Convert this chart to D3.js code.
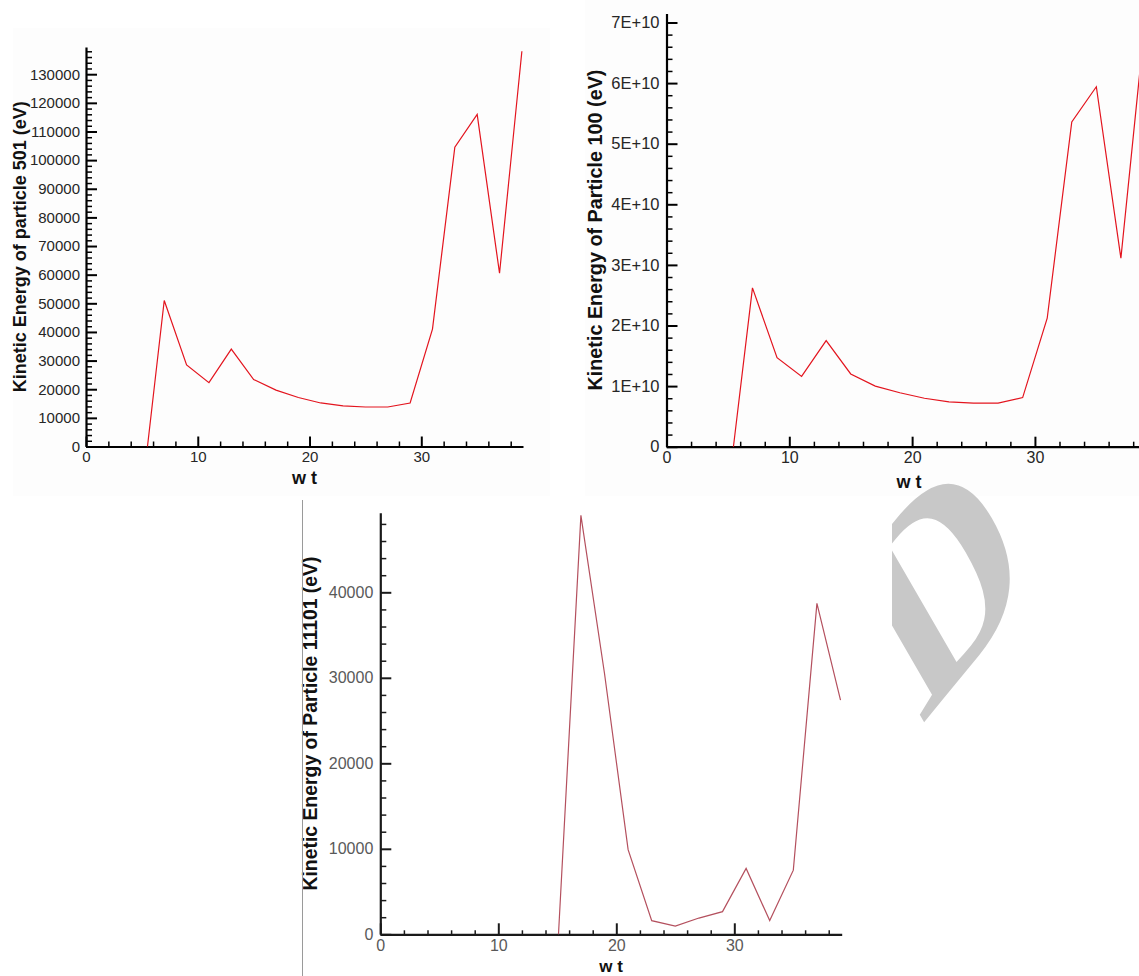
<!DOCTYPE html>
<html>
<head>
<meta charset="utf-8">
<script src="https://cdn.jsdelivr.net/npm/d3@7"></script>
<style>
    body { margin: 0; background: #ffffff; }
    svg { display: block; }
    text { font-family: "Liberation Sans", Arial, sans-serif; }
</style>
</head>
<body>
<svg id="chart" width="1139" height="976"></svg>
<script>
// Particle 501 (top left)
var wt501 = [5.5, 7, 9, 11, 13, 15, 17, 19, 21, 23, 25, 27, 29, 31, 33, 35, 37, 39];
var ke501 = [0, 51000, 28500, 22300, 34000, 23400, 19700, 17100, 15200, 14200, 13800, 13800, 15200, 41000, 104500, 116000, 60500, 138000];
var yTicks501 = [0, 10000, 20000, 30000, 40000, 50000, 60000, 70000, 80000, 90000, 100000, 110000, 120000, 130000];

// Particle 100 (top right)
var wt100 = [5.45, 7, 9, 11, 13, 15, 17, 19, 21, 23, 25, 27, 29, 31, 33, 35, 37, 39];
var ke100 = [0, 2.62e10, 1.47e10, 1.16e10, 1.75e10, 1.2e10, 1.0e10, 0.89e10, 0.8e10, 0.74e10, 0.72e10, 0.72e10, 0.81e10, 2.12e10, 5.36e10, 5.94e10, 3.11e10, 7.1e10];
var yTicks100 = [0, 1e10, 2e10, 3e10, 4e10, 5e10, 6e10, 7e10];
var yLabels100 = ["0", "1E+10", "2E+10", "3E+10", "4E+10", "5E+10", "6E+10", "7E+10"];

// Particle 11101 (bottom)
var wt11101 = [15.1, 17, 19, 21, 23, 25, 27, 29, 31, 33, 35, 37, 39];
var ke11101 = [0, 49000, 30500, 9900, 1600, 950, 1900, 2650, 7700, 1600, 7500, 38700, 27400];
var yTicks11101 = [0, 10000, 20000, 30000, 40000];

var xTicks = [0, 10, 20, 30];
var xTitle = "w t";

var svg = d3.select("#chart");

// very faint paper tone behind the two upper plots
svg.append("rect").attr("x", 13).attr("y", 28).attr("width", 537).attr("height", 468).attr("fill", "#fdfdfd");
svg.append("rect").attr("x", 585).attr("y", 0).attr("width", 554).attr("height", 496).attr("fill", "#fdfdfd");

/**
 * drawPanel: one line plot with Tecplot-like inward ticks
 */
function drawPanel(opt) {
    var g = svg.append("g");

    var x = d3.scaleLinear().domain([0, opt.xMax]).range(opt.xRange);
    var y = d3.scaleLinear().domain([0, opt.yMax]).range(opt.yRange);

    // minor ticks first so the major ones sit on top
    var xMinor = d3.range(2, opt.xMax, 2).filter(function(v) { return v % 10 !== 0; });
    var yMinor = d3.range(0, opt.yMax, opt.yMinorStep).filter(function(v) {
        return Math.abs(v / opt.yMajorStep - Math.round(v / opt.yMajorStep)) > 1e-6;
    });

    g.append("g")
        .attr("transform", "translate(0," + opt.yRange[0] + ")")
        .call(d3.axisBottom(x).tickValues(xMinor).tickFormat("").tickSizeInner(-opt.minorX).tickSizeOuter(0))
        .call(function(a) { a.select(".domain").remove(); })
        .selectAll("line").attr("stroke", opt.axisColor).attr("stroke-width", 1.5);

    g.append("g")
        .attr("transform", "translate(" + opt.xRange[0] + ",0)")
        .call(d3.axisLeft(y).tickValues(yMinor).tickFormat("").tickSizeInner(-opt.minorY).tickSizeOuter(0))
        .call(function(a) { a.select(".domain").remove(); })
        .selectAll("line").attr("stroke", opt.axisColor).attr("stroke-width", 1.5);

    // Build X axis
    var xAxis = g.append("g")
        .attr("transform", "translate(0," + opt.yRange[0] + ")")
        .call(d3.axisBottom(x).tickValues(xTicks).tickSizeInner(-opt.majorX).tickSizeOuter(0).tickPadding(opt.xPad));
    xAxis.select(".domain").attr("stroke", opt.axisColor).attr("stroke-width", 2.2);
    xAxis.selectAll("line").attr("stroke", opt.axisColor).attr("stroke-width", 2);
    xAxis.selectAll("text")
        .attr("fill", opt.labelColor)
        .style("font-size", opt.tickFont + "px");

    // Build Y axis
    var yAxis = g.append("g")
        .attr("transform", "translate(" + opt.xRange[0] + ",0)")
        .call(d3.axisLeft(y).tickValues(opt.yTicks).tickFormat(opt.yFormat).tickSizeInner(-opt.majorY).tickSizeOuter(0).tickPadding(opt.yPad));
    yAxis.select(".domain").attr("stroke", opt.axisColor).attr("stroke-width", 2.2);
    yAxis.selectAll("line").attr("stroke", opt.axisColor).attr("stroke-width", 2);
    yAxis.selectAll("text")
        .attr("fill", opt.labelColor)
        .style("font-size", opt.yTickFont + "px");

    // the curve
    var line = d3.line()
        .x(function(d) { return x(d[0]); })
        .y(function(d) { return y(d[1]); });
    g.append("path")
        .datum(d3.zip(opt.wt, opt.ke))
        .attr("fill", "none")
        .attr("stroke", opt.lineColor)
        .attr("stroke-width", 1.2)
        .attr("d", line);

    // axis titles
    g.append("text")
        .attr("x", (opt.xRange[0] + opt.xRange[1]) / 2)
        .attr("y", opt.xTitleY)
        .attr("text-anchor", "middle")
        .attr("font-weight", "bold")
        .style("font-size", opt.titleFont + "px")
        .attr("fill", "#111")
        .text(xTitle);

    g.append("text")
        .attr("transform", "translate(" + opt.yTitleX + "," + ((opt.yRange[0] + opt.yRange[1]) / 2) + ") rotate(-90)")
        .attr("text-anchor", "middle")
        .attr("dy", "0.35em")
        .attr("font-weight", "bold")
        .style("font-size", opt.yTitleFont + "px")
        .attr("fill", "#111")
        .text(opt.yTitle);
}

drawPanel({
    xMax: 39.1, xRange: [86, 523], yMax: 139500, yRange: [446.5, 47],
    yTicks: yTicks501, yFormat: d3.format("d"), yMajorStep: 10000, yMinorStep: 2000,
    wt: wt501, ke: ke501, lineColor: "#e3141e",
    majorX: 10, minorX: 5, majorY: 11, minorY: 6, xPad: 5, yPad: 6,
    tickFont: 15, yTickFont: 15, titleFont: 18, yTitleFont: 18,
    axisColor: "#000", labelColor: "#262626",
    xTitleY: 484, yTitleX: 20,
    yTitle: "Kinetic Energy of particle 501 (eV)"
});

drawPanel({
    xMax: 39.5, xRange: [666.5, 1151.6], yMax: 7.15e10, yRange: [446.7, 13.4],
    yTicks: yTicks100, yFormat: function(d, i) { return yLabels100[i]; }, yMajorStep: 1e10, yMinorStep: 2e9,
    wt: wt100, ke: ke100, lineColor: "#e3141e",
    majorX: 10, minorX: 5, majorY: 11, minorY: 6, xPad: 5, yPad: 7,
    tickFont: 16, yTickFont: 16.5, titleFont: 18, yTitleFont: 19.8,
    axisColor: "#000", labelColor: "#262626",
    xTitleY: 488, yTitleX: 595,
    yTitle: "Kinetic Energy of Particle 100 (eV)"
});

drawPanel({
    xMax: 39.1, xRange: [380.3, 841.7], yMax: 49300, yRange: [934.3, 512.8],
    yTicks: yTicks11101, yFormat: d3.format("d"), yMajorStep: 10000, yMinorStep: 2000,
    wt: wt11101, ke: ke11101, lineColor: "#b4505e",
    majorX: 11, minorX: 4, majorY: 11, minorY: 6, xPad: 5, yPad: 7,
    tickFont: 16, yTickFont: 16, titleFont: 17, yTitleFont: 19.4,
    axisColor: "#1a1a1a", labelColor: "#595959",
    xTitleY: 972, yTitleX: 310.5,
    yTitle: "Kinetic Energy of Particle 11101 (eV)"
});

// thin page rule left of the bottom plot
svg.append("line")
    .attr("x1", 302.5).attr("x2", 302.5)
    .attr("y1", 500).attr("y2", 976)
    .attr("stroke", "#9a9a9a").attr("stroke-width", 1);

// clipped watermark letter
svg.append("clipPath").attr("id", "wm-clip")
    .append("rect").attr("x", 892).attr("y", 480).attr("width", 247).attr("height", 300);
svg.append("g")
    .attr("clip-path", "url(#wm-clip)")
    .append("text")
    .attr("transform", "translate(938,578) rotate(-30) skewY(-21)")
    .attr("text-anchor", "middle")
    .attr("dy", "0.35em")
    .attr("font-weight", "bold")
    .style("font-family", "'Liberation Serif', 'DejaVu Serif', serif")
    .style("font-size", "245px")
    .attr("fill", "#c8c8c8")
    .text("D");
</script>
</body>
</html>
